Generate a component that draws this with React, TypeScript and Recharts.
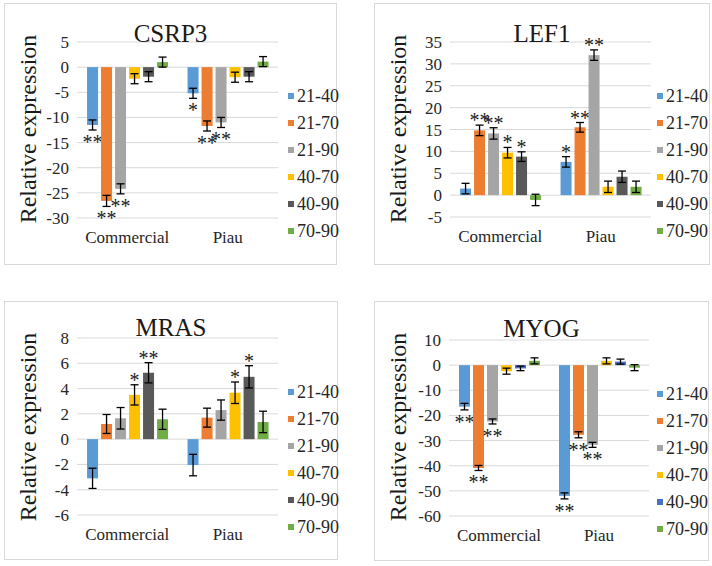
import { BarChart, Bar, XAxis, YAxis, CartesianGrid, ErrorBar } from 'recharts'

const categories = ['Commercial', 'Piau']
const seriesNames = ['21-40', '21-70', '21-90', '40-70', '40-90', '70-90']
const baseColors = ['#5B9BD5', '#ED7D31', '#A5A5A5', '#FFC000', '#595959', '#70AD47']
const myogColors = ['#5B9BD5', '#ED7D31', '#A5A5A5', '#FFC000', '#4472C4', '#70AD47']

// CSRP3
const csrp3Commercial = [-11.5, -26.6, -24.2, -2.3, -1.9, 1.0]
const csrp3Piau = [-5.2, -11.7, -11.0, -2.0, -1.9, 1.1]
const csrp3ErrCommercial = [1.0, 1.1, 1.0, 1.0, 1.0, 1.0]
const csrp3ErrPiau = [1.0, 1.0, 1.0, 1.0, 1.0, 1.0]
const csrp3StarsCommercial = ['**', '**', '**', '', '', '']
const csrp3StarsPiau = ['*', '**', '**', '', '', '']
const csrp3Ticks = [5, 0, -5, -10, -15, -20, -25, -30]

// LEF1
const lef1Commercial = [1.5, 14.8, 14.1, 9.7, 8.8, -1.1]
const lef1Piau = [7.6, 15.5, 32.0, 1.9, 4.2, 1.9]
const lef1ErrCommercial = [1.2, 1.2, 1.3, 1.2, 1.1, 1.3]
const lef1ErrPiau = [1.2, 1.1, 1.2, 1.3, 1.3, 1.3]
const lef1StarsCommercial = ['', '**', '**', '*', '*', '']
const lef1StarsPiau = ['*', '**', '**', '', '', '']
const lef1Ticks = [35, 30, 25, 20, 15, 10, 5, 0, -5]

// MRAS
const mrasCommercial = [-3.1, 1.2, 1.65, 3.5, 5.25, 1.57]
const mrasPiau = [-2.05, 1.7, 2.3, 3.67, 4.93, 1.36]
const mrasErrCommercial = [0.8, 0.75, 0.85, 0.8, 0.8, 0.8]
const mrasErrPiau = [0.85, 0.75, 0.8, 0.85, 0.88, 0.85]
const mrasStarsCommercial = ['', '', '', '*', '**', '']
const mrasStarsPiau = ['', '', '', '*', '*', '']
const mrasTicks = [8, 6, 4, 2, 0, -2, -4, -6]

// MYOG
const myogCommercial = [-16.5, -40.9, -22.4, -2.4, -1.3, 1.7]
const myogPiau = [-52.0, -27.7, -31.7, 1.7, 1.4, -1.0]
const myogErrCommercial = [1.3, 1.0, 1.0, 1.2, 0.9, 1.2]
const myogErrPiau = [1.2, 1.2, 1.0, 1.2, 1.0, 1.2]
const myogStarsCommercial = ['**', '**', '**', '', '', '']
const myogStarsPiau = ['**', '**', '**', '', '', '']
const myogTicks = [10, 0, -10, -20, -30, -40, -50, -60]

const FONT = '"Liberation Serif", "Times New Roman", serif'

function buildRows(vals: number[][], errs: number[][], stars: string[][]) {
  return categories.map((name, i) => {
    const row: any = { name }
    seriesNames.forEach((_, j) => {
      row[`s${j}`] = vals[i][j]
      row[`e${j}`] = errs[i][j]
      row[`a${j}`] = stars[i][j]
    })
    return row
  })
}

const starShape = (j: number, color: string) => (props: any) => {
  const { x, y, width, height, payload } = props
  const v = payload[`s${j}`]
  const e = payload[`e${j}`]
  const a = payload[`a${j}`]
  const top = Math.min(y, y + height)
  const bottom = Math.max(y, y + height)
  let label = null
  if (a && v !== 0 && height) {
    const k = Math.abs(height) / Math.abs(v)
    const ty = v < 0 ? bottom + e * k + 19 : top - e * k + 2
    label = (
      <text x={x + width / 2} y={ty} textAnchor="middle" fontSize={20} fontFamily={FONT} fill="#1a1a1a">
        {a}
      </text>
    )
  }
  return (
    <g>
      <rect x={x} y={top} width={width} height={bottom - top} fill={color} />
      {label}
    </g>
  )
}

interface PanelProps {
  title: string
  rows: any[]
  ticks: number[]
  colors: string[]
  box: { left: number; top: number; width: number; height: number }
  margin: { top: number; right: number; bottom: number }
  yWidth: number
  titleY: number
  legendX: number
  legendY: number
}

function Panel({ title, rows, ticks, colors, box, margin, yWidth, titleY, legendX, legendY }: PanelProps) {
  const lo = Math.min(...ticks)
  const hi = Math.max(...ticks)
  return (
    <div
      style={{
        position: 'absolute', left: box.left, top: box.top, width: box.width, height: box.height,
        border: '1px solid #d9d9d9', boxSizing: 'border-box', background: '#fff', fontFamily: FONT,
      }}
    >
      <div style={{ position: 'absolute', left: -1, top: -1 }}>
        <BarChart
          width={box.width}
          height={box.height}
          data={rows}
          margin={{ top: margin.top, right: margin.right, bottom: margin.bottom, left: 0 }}
          barCategoryGap="10%"
          barGap={3}
        >
          <CartesianGrid vertical={false} stroke="#d9d9d9" />
          <XAxis
            dataKey="name"
            height={30}
            axisLine={false}
            tickLine={false}
            tickMargin={7}
            tick={{ fontSize: 17, fill: '#262626', fontFamily: FONT }}
          />
          <YAxis
            width={yWidth}
            domain={[lo, hi]}
            ticks={ticks}
            interval={0}
            axisLine={false}
            tickLine={false}
            tick={{ fontSize: 17, fill: '#262626', fontFamily: FONT }}
          />
          {seriesNames.map((s, j) => (
            <Bar key={s} dataKey={`s${j}`} name={s} fill={colors[j]} isAnimationActive={false} shape={starShape(j, colors[j])}>
              <ErrorBar dataKey={`e${j}`} width={4} stroke="#000" strokeWidth={1.3} />
            </Bar>
          ))}
        </BarChart>
      </div>
      <div
        style={{
          position: 'absolute', left: 0, width: box.width - 2, top: titleY - 15, height: 30, lineHeight: '30px',
          textAlign: 'center', fontSize: 25, color: '#1a1a1a',
        }}
      >
        {title}
      </div>
      <div
        style={{
          position: 'absolute', left: 23 - 110, top: 125 - 15, width: 220, height: 30, lineHeight: '30px',
          textAlign: 'center', fontSize: 24, color: '#1a1a1a', transform: 'rotate(-90deg)',
        }}
      >
        Relative expression
      </div>
      {seriesNames.map((s, j) => (
        <div
          key={s}
          style={{
            position: 'absolute', left: legendX, top: legendY + j * 27 - 11, height: 22, lineHeight: '22px',
            fontSize: 18, color: '#262626', whiteSpace: 'nowrap',
          }}
        >
          <span style={{ display: 'inline-block', width: 6, height: 6, background: colors[j], marginRight: 3, verticalAlign: 'middle', position: 'relative', top: -2 }} />
          {s}
        </div>
      ))}
    </div>
  )
}

export default function App() {
  return (
    <div style={{ position: 'absolute', left: 0, top: 0, width: 712, height: 566, background: '#fff' }}>
      <Panel
        title="CSRP3"
        rows={buildRows([csrp3Commercial, csrp3Piau], [csrp3ErrCommercial, csrp3ErrPiau], [csrp3StarsCommercial, csrp3StarsPiau])}
        ticks={csrp3Ticks}
        colors={baseColors}
        box={{ left: 4, top: 3, width: 333, height: 262 }}
        margin={{ top: 39, right: 59, bottom: 17 }}
        yWidth={73}
        titleY={30}
        legendX={283}
        legendY={92}
      />
      <Panel
        title="LEF1"
        rows={buildRows([lef1Commercial, lef1Piau], [lef1ErrCommercial, lef1ErrPiau], [lef1StarsCommercial, lef1StarsPiau])}
        ticks={lef1Ticks}
        colors={baseColors}
        box={{ left: 374, top: 3, width: 336, height: 262 }}
        margin={{ top: 39, right: 59, bottom: 18 }}
        yWidth={76}
        titleY={30}
        legendX={282}
        legendY={92}
      />
      <Panel
        title="MRAS"
        rows={buildRows([mrasCommercial, mrasPiau], [mrasErrCommercial, mrasErrPiau], [mrasStarsCommercial, mrasStarsPiau])}
        ticks={mrasTicks}
        colors={baseColors}
        box={{ left: 4, top: 301, width: 334, height: 259 }}
        margin={{ top: 37, right: 60, bottom: 15 }}
        yWidth={73}
        titleY={26}
        legendX={283}
        legendY={90}
      />
      <Panel
        title="MYOG"
        rows={buildRows([myogCommercial, myogPiau], [myogErrCommercial, myogErrPiau], [myogStarsCommercial, myogStarsPiau])}
        ticks={myogTicks}
        colors={myogColors}
        box={{ left: 374, top: 301, width: 335, height: 260 }}
        margin={{ top: 39, right: 60, bottom: 15 }}
        yWidth={75}
        titleY={27}
        legendX={282}
        legendY={92}
      />
    </div>
  )
}
